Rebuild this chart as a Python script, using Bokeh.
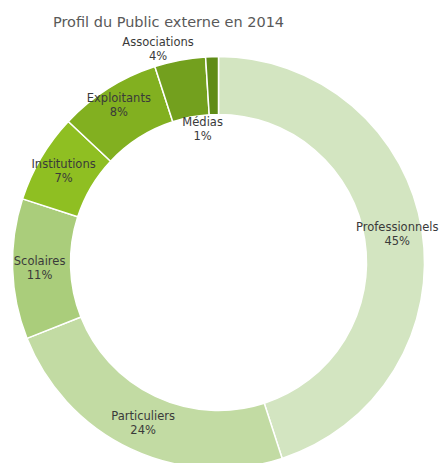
import math
from bokeh.plotting import figure
from bokeh.models import Range1d, ColumnDataSource
from bokeh.core.properties import value
from bokeh.embed import file_html
from bokeh.resources import INLINE

title = "Profil du Public externe en 2014"
categories = ["Professionnels", "Particuliers", "Scolaires", "Institutions",
              "Exploitants", "Associations", "Médias"]
percents = [45, 24, 11, 7, 8, 4, 1]
colors = ["#d3e5c1", "#c2dba3", "#aacd7b", "#8fbf22", "#82b020", "#73a01e", "#5f8c17"]

# label placement (style): radius from centre and angular nudge in degrees
label_r = [181, 177, 179, 180, 186, 222, 134]
label_dang = [0, 0, 0, 0, 0, -5, -5]

W, H = 440, 463
cx, cy = 218, 463 - 262
r_in, r_out = 148, 206

p = figure(width=W, height=H, output_backend="svg", toolbar_location=None,
           x_range=Range1d(0, W), y_range=Range1d(463 - H, 463),
           min_border=0)
p.axis.visible = False
p.grid.visible = False
p.outline_line_color = None
p.background_fill_color = "white"

total = sum(percents)
starts, ends, lx, ly, labels = [], [], [], [], []
cum = 0.0
for c, v, lr, da in zip(categories, percents, label_r, label_dang):
    a0 = cum / total
    a1 = (cum + v) / total
    cum += v
    starts.append(math.pi / 2 - 2 * math.pi * a1)
    ends.append(math.pi / 2 - 2 * math.pi * a0)
    mid = 2 * math.pi * (a0 + a1) / 2 + math.radians(da)
    lx.append(cx + lr * math.sin(mid))
    ly.append(cy + lr * math.cos(mid))
    labels.append(f"{c}\n{v}%")

src = ColumnDataSource(dict(start=starts, end=ends, color=colors, lx=lx, ly=ly, label=labels))
p.annular_wedge(x=cx, y=cy, inner_radius=r_in, outer_radius=r_out,
                start_angle="start", end_angle="end", fill_color="color",
                line_color="white", line_width=1.5, source=src)

p.text(x="lx", y="ly", text="label", source=src, text_align="center",
       text_baseline="middle", text_font=value("DejaVu Sans"),
       text_font_size="11.5px", text_color="#3a3a3a", text_line_height=1.0)

p.text(x=[168], y=[463 - 21], text=[title], text_align="center", text_baseline="middle",
       text_font=value("DejaVu Sans"), text_font_size="14.5px", text_color="#595959")

open("out.html", "w").write(file_html(p, INLINE))
